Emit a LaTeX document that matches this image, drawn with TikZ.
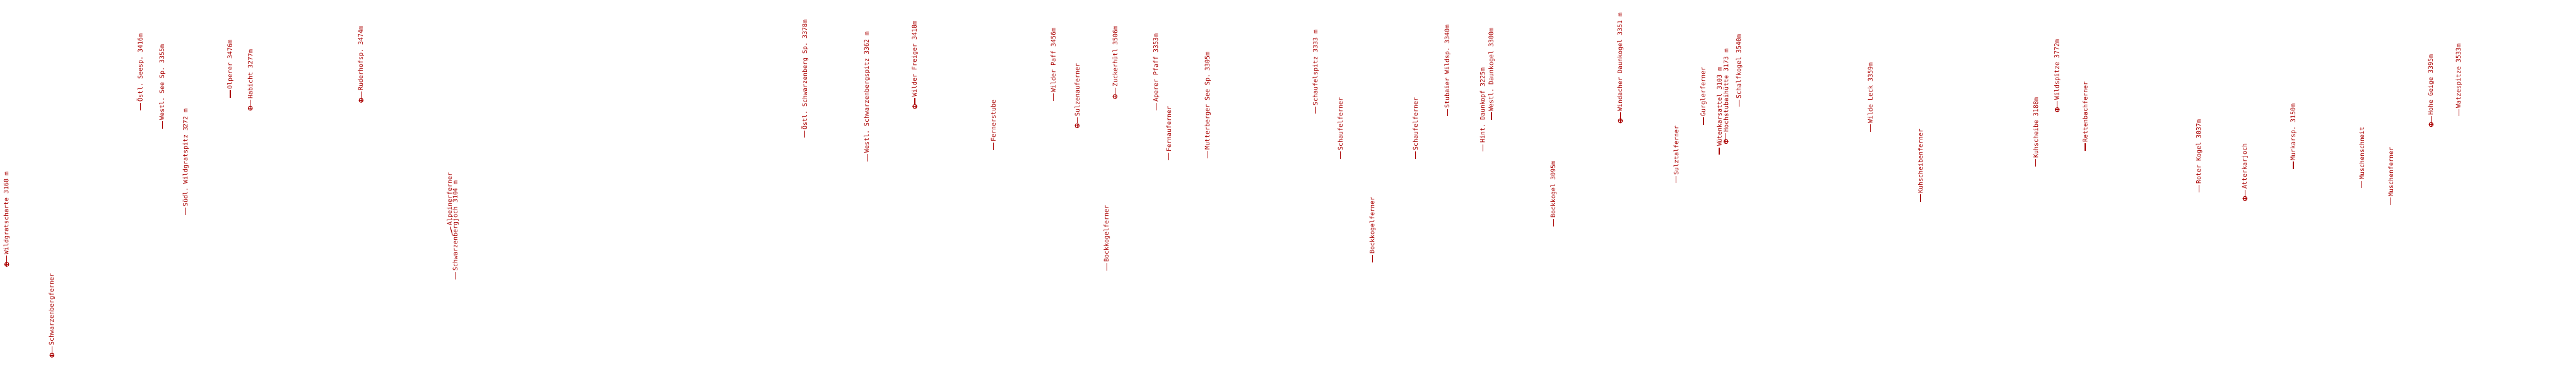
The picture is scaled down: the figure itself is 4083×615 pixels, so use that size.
\documentclass[tikz,border=0pt]{standalone}
\usepackage{fontspec}
\setmonofont{DejaVu Sans Mono}
\definecolor{rot}{RGB}{170,0,0}
\begin{document}
\begin{tikzpicture}[x=1pt,y=1pt,
  ink/.style={draw=rot, line width=1.1pt, shorten >=1.5pt},
  lbl/.style={text=rot, font=\ttfamily\fontsize{9.95}{10}\selectfont, inner sep=0pt, anchor=west, rotate=90},
  gipfel/.style={circle, draw=rot, line width=1.1pt, minimum size=6.5pt, inner sep=0pt,
    path picture={\draw[rot, line width=0.9pt] (path picture bounding box.north) -- (path picture bounding box.south)
      (path picture bounding box.west) -- (path picture bounding box.east);}}]
\useasboundingbox (0,0) rectangle (4083,615);
% labels with a plain tick
\foreach \x/\y/\t [count=\i] in {
  222.3/175/{Östl. Seesp. 3416m},
  257.3/204/{Westl. See Sp. 3355m},
  294.7/341/{Südl. Wildgratspitz 3272 m},
  365/155/{Olperer 3476m},
  722.3/443/{Schwarzenbergjoch 3104 m},
  1275.7/218.5/{Östl. Schwarzenberg Sp. 3378m},
  1374.3/255.8/{Westl. Schwarzenbergspitz 3362 m},
  1574.3/238/{Fernerstube},
  1669.3/160/{Wilder Paff 3456m},
  1832.7/174.6/{Aperer Pfaff 3353m},
  1852.3/254/{Fernauferner},
  1914.3/251/{Mutterberger See Sp. 3305m},
  1754.3/428.8/{Bockkogelferner},
  2085.7/180.4/{Schaufelspitz 3333 m},
  2124.3/251.9/{Schaufelferner},
  2175.7/415.8/{Bockkogelferner},
  2243.3/251.9/{Schaufelferner},
  2294.3/184.4/{Stubaier Wildsp. 3340m},
  2350.7/240.1/{Hint. Daunkopf 3225m},
  2364/189.9/{Westl. Daunkogel 3300m},
  2462.3/359/{Bockkogel 3095m},
  2656.7/290.4/{Sulztalferner},
  2700/198/{Gurglerferner},
  2725/245.2/{Wütenkarsattel 3103 m},
  2756.7/169.5/{Schalfkogel 3540m},
  2964.3/208.7/{Wilde Leck 3359m},
  3044/319.8/{Kuhscheibenferner},
  3226.7/263.7/{Kuhscheibe 3188m},
  3305/238.6/{Rettenbachferner},
  3485.7/304.8/{Roter Kogel 3037m},
  3635/268/{Murkarsp. 3150m},
  3743.3/298.1/{Muschenschneit},
  3789.3/324.9/{Muschenferner},
  3897.3/184.4/{Watzespitze 3533m}}{
  \coordinate (d\i) at (\x,615-\y);
  \node[lbl] (dl\i) at (\x,615-\y+13) {\t};
  \draw[ink] (d\i) -- (dl\i.west);
}
% label with a slanted tick
\coordinate (da) at (717,615-372);
\node[lbl] (dla) at (713.3,615-358) {Alpeinerferner};
\draw[ink] (da) -- (dla.west);
% labels with a summit marker
\foreach \x/\y/\t [count=\i] in {
  10.7/419/{Wildgratscharte 3168 m},
  82.3/563/{Schwarzenbergferner},
  396.7/171.5/{Habicht 3277m},
  572.3/159/{Ruderhofsp. 3474m},
  1450/168.7/{Wilder Freiger 3418m},
  1707.3/199.3/{Sulzenauferner},
  1767.3/153/{Zuckerhütl 3506m},
  2568.3/191.5/{Windacher Daunkogel 3351 m},
  2735.7/224.4/{Hochstubaihütte 3173 m},
  3260.7/173.8/{Wildspitze 3772m},
  3558.3/314.6/{Atterkarjoch},
  3853.3/197.4/{Hohe Geige 3395m}}{
  \node[gipfel] (m\i) at (\x,615-\y) {};
  \node[lbl] (ml\i) at (\x,615-\y+15) {\t};
  \draw[ink] (m\i.north) -- (ml\i.west);
}
\end{tikzpicture}
\end{document}
